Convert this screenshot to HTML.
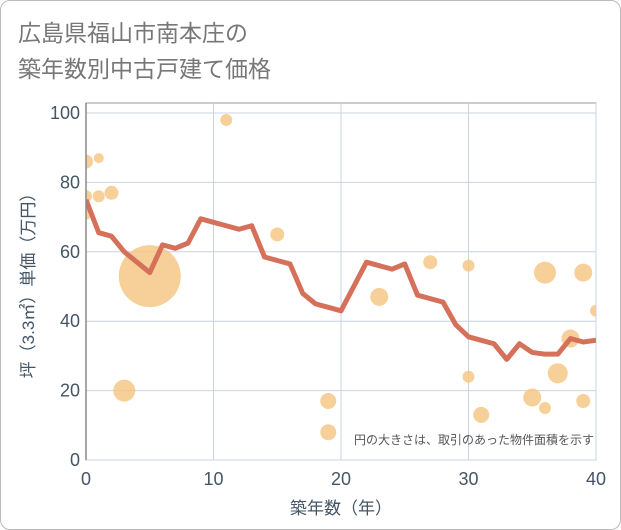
<!DOCTYPE html>
<html><head><meta charset="utf-8">
<style>
body{margin:0;background:#fff;}
.frame{position:absolute;left:0;top:0;width:619px;height:528px;border:1px solid #bbb;border-radius:10px;background:#fff;}
.t{font-family:"Liberation Sans","Noto Sans CJK JP",sans-serif;}
</style></head>
<body>
<div class="frame"></div>
<svg width="621" height="530" style="position:absolute;left:0;top:0">
<defs><clipPath id="pc"><rect x="86" y="103" width="510" height="357"/></clipPath></defs>
<text class="t" x="18" y="41" font-size="23" fill="#777">広島県福山市南本庄の</text>
<text class="t" x="18" y="77" font-size="23" fill="#777">築年数別中古戸建て価格</text>
<g id="plot"></g>
</svg>
<script>
const lineYears=[0,1,2,3,4,5,6,7,8,9,10,11,12,13,14,15,16,17,18,19,20,21,22,23,24,25,26,27,28,29,30,31,32,33,34,35,36,37,38,39,40];
const linePrices=[75,65.5,64.5,60,57,54,62,61,62.5,69.5,68.5,67.5,66.5,67.5,58.5,57.5,56.5,48,45,44,43,50,57,56,55,56.5,47.5,46.5,45.5,39,35.5,34.5,33.5,29,33.5,31,30.5,30.5,35,34,34.5];
const bubbleYears=[0,1,0,1,2,0,3,5,11,15,19,19,23,27,30,30,31,35,36,36,37,38,39,39,40];
const bubblePrices=[86,87,76,76,77,71,20,53,98,65,17,8,47,57,56,24,13,18,54,15,25,35,54,17,43];
const bubbleSizes=[7,5,6,6,7,6,11,31,6,7,8,8,9,7,6,6,8,9,11,6,10,9,9,7,6];
const xTicks=[0,10,20,30,40];
const yTicks=[0,20,40,60,80,100];
const L=86,R=596,T=103,B=460;
const xs=v=>L+(v/40)*(R-L);
const ys=v=>B-(v/100)*(B-113);
const NS='http://www.w3.org/2000/svg';
const g=document.getElementById('plot');
function mk(tag,attrs,parent){const e=document.createElementNS(NS,tag);for(const k in attrs)e.setAttribute(k,attrs[k]);(parent||g).appendChild(e);return e;}
let e=mk('rect',{x:L,y:T,width:R-L,height:B-T,fill:'#fff',stroke:'#999','stroke-width':1});


xTicks.forEach(v=>{
 let l=mk('line',{x1:xs(v),x2:xs(v),y1:T,y2:B,stroke:'#c8d4e0','stroke-width':1});
 
 
 let t=mk('text',{x:xs(v),y:B+25,'text-anchor':'middle','font-size':18,fill:'#445566',class:'t'});t.textContent=v;
 
 
});
yTicks.forEach(v=>{
 let l=mk('line',{x1:L,x2:R,y1:ys(v),y2:ys(v),stroke:'#c8d4e0','stroke-width':1});
 
 
 let t=mk('text',{x:L-6,y:ys(v)+6,'text-anchor':'end','font-size':18,fill:'#445566',class:'t'});t.textContent=v;
 
 
});
const cg=mk('g',{'clip-path':'url(#pc)'});


bubbleYears.forEach((v,i)=>{
 let c=mk('circle',{cx:xs(v),cy:ys(bubblePrices[i]),r:bubbleSizes[i],fill:'#f5c47f','fill-opacity':0.8},cg);
 
 
});
let p=mk('polyline',{points:lineYears.map((v,i)=>xs(v)+','+ys(linePrices[i])).join(' '),fill:'none',stroke:'#d5705a','stroke-width':5,'stroke-linejoin':'round'},cg);


e=mk('line',{x1:L,x2:L,y1:T,y2:B,stroke:'#888','stroke-width':1.5});


let n=mk('text',{x:594,y:444,'text-anchor':'end','font-size':12,fill:'#555',class:'t'});n.textContent='円の大きさは、取引のあった物件面積を示す';


let xt=mk('text',{x:(L+R)/2,y:514,'text-anchor':'middle','font-size':17,fill:'#445566',class:'t'});xt.textContent='築年数（年）';


let yt=mk('text',{x:0,y:0,'text-anchor':'middle','font-size':17,fill:'#445566',class:'t',transform:'translate(34,'+((T+B)/2)+') rotate(-90)'});yt.textContent='坪（3.3㎡）単価（万円）';


</script>
</body></html>
